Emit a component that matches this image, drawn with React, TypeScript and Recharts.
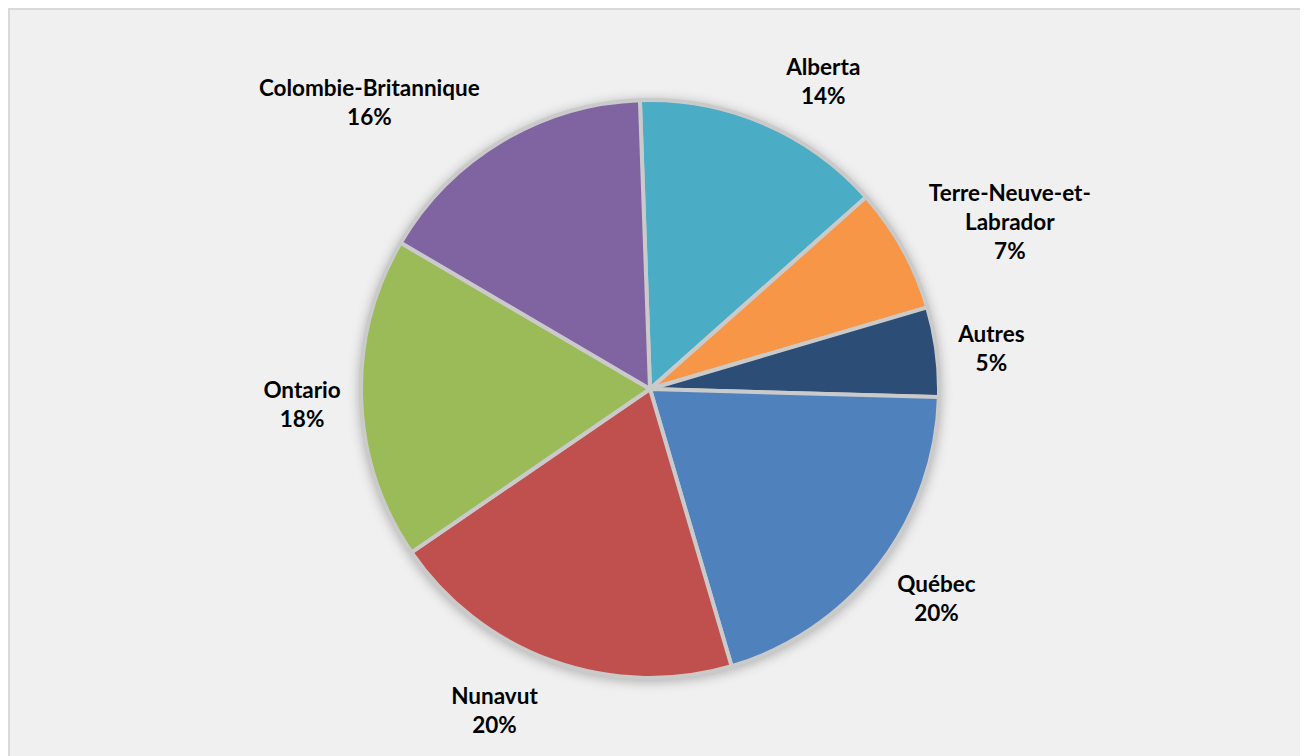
import React from "react";
import { PieChart, Pie, Cell } from "recharts";

const categories = [
  "Alberta",
  "Terre-Neuve-et-Labrador",
  "Autres",
  "Québec",
  "Nunavut",
  "Ontario",
  "Colombie-Britannique",
];
const values = [14, 7, 5, 20, 20, 18, 16];
const colors = ["#4BACC6", "#F79646", "#2C4D75", "#4F81BD", "#C0504D", "#9BBB59", "#8064A2"];

const data = categories.map((name, i) => ({ name, value: values[i] }));

const FONT_SIZE = 22.5;
const LINE_H = 29;
const RADIAN = Math.PI / 180;

function wrap(name: string): string[] {
  if (name.length <= 21) return [name];
  const idx = name.lastIndexOf("-", 16);
  if (idx < 0) return [name];
  return [name.slice(0, idx + 1), name.slice(idx + 1)];
}

const renderLabel = (props: any) => {
  const { cx, cy, midAngle, outerRadius, percent, name } = props;
  const lines = [...wrap(name), `${Math.round(percent * 100)}%`];
  const cos = Math.cos(-midAngle * RADIAN);
  const sin = Math.sin(-midAngle * RADIAN);
  const r = outerRadius + 20;
  const ax = cx + r * cos;
  const ay = cy + r * sin;
  const maxLen = Math.max(...lines.map((l) => l.length));
  const w = maxLen * 24 * 0.46;
  const h = lines.length * LINE_H;
  const dirX = Math.abs(cos) < 0.05 ? 0 : Math.sign(cos);
  const bx = ax + dirX * (w / 2 + 14 * Math.abs(sin));
  const by = ay + sin * (h / 2) + 3;
  const top = by - ((lines.length - 1) * LINE_H) / 2;
  return (
    <g>
      {lines.map((l, i) => (
        <text
          key={i}
          x={bx}
          y={top + i * LINE_H}
          textAnchor="middle"
          dominantBaseline="central"
          fill="#000000"
          fontFamily="Lato, 'Open Sans', sans-serif"
          fontWeight="bold"
          fontSize={FONT_SIZE}
        >
          {l}
        </text>
      ))}
    </g>
  );
};

export default function App() {
  return (
    <div
      style={{
        width: 1300,
        height: 748,
        boxSizing: "border-box",
        background: "#F0F0F0",
        borderTop: "2px solid #D9D9D9",
        borderLeft: "2px solid #D9D9D9",
        overflow: "hidden",
        position: "relative",
      }}
    >
      <svg width={0} height={0} style={{ position: "absolute" }}>
        <defs>
          <filter id="pieShadow" x="-20%" y="-20%" width="140%" height="140%">
            <feGaussianBlur stdDeviation="6" />
          </filter>
        </defs>
      </svg>
      <PieChart width={1298} height={746}>
        <Pie
          data={data}
          dataKey="value"
          nameKey="name"
          cx={635}
          cy={376}
          outerRadius={291}
          startAngle={92}
          endAngle={-268}
          stroke="none"
          label={false}
          labelLine={false}
          isAnimationActive={false}
        >
          {data.map((d) => (
            <Cell key={d.name} fill="#000000" fillOpacity={0.28} filter="url(#pieShadow)" />
          ))}
        </Pie>
        <Pie
          data={data}
          dataKey="value"
          nameKey="name"
          cx={635}
          cy={374}
          outerRadius={289}
          startAngle={92}
          endAngle={-268}
          stroke="#CACACA"
          strokeWidth={4}
          label={renderLabel}
          labelLine={false}
          isAnimationActive={false}
        >
          {data.map((d, i) => (
            <Cell key={d.name} fill={colors[i]} />
          ))}
        </Pie>
      </PieChart>
    </div>
  );
}
